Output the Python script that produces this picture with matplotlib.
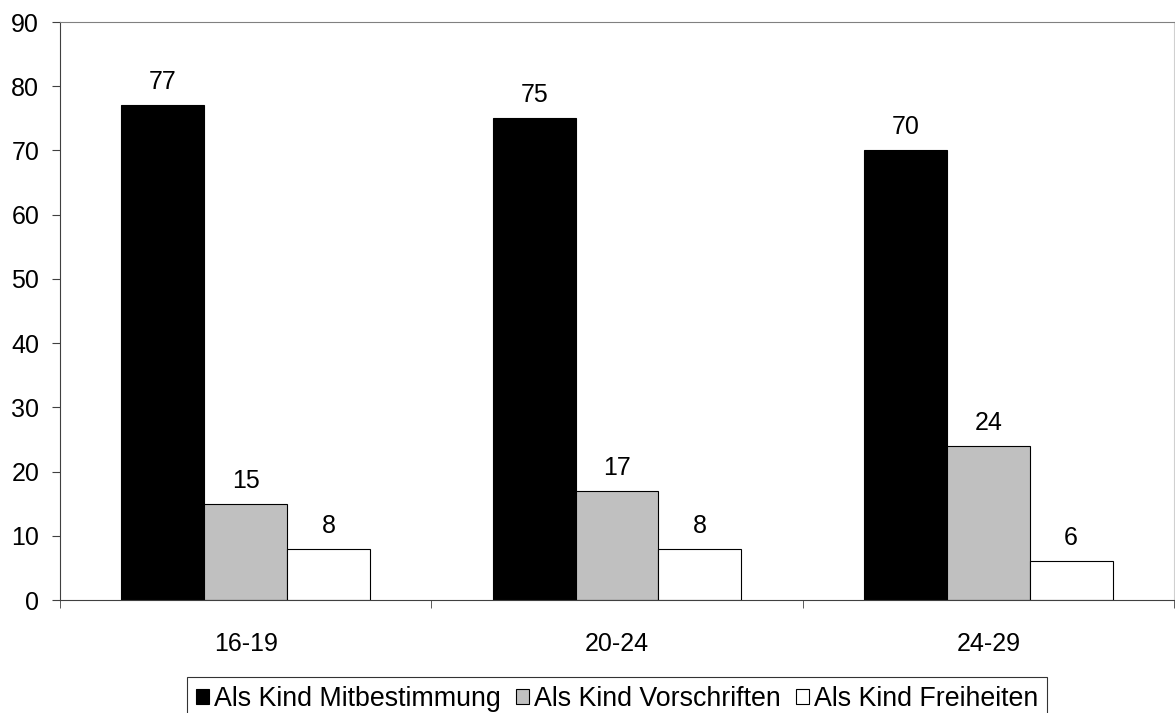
import matplotlib
matplotlib.use("Agg")
import matplotlib.pyplot as plt
import numpy as np

plt.rcParams['font.family'] = ['Liberation Sans', 'DejaVu Sans']

categories = ["16-19", "20-24", "24-29"]
series_names = ["Als Kind Mitbestimmung", "Als Kind Vorschriften", "Als Kind Freiheiten"]
mitbestimmung = [77, 75, 70]
vorschriften = [15, 17, 24]
freiheiten = [8, 8, 6]
colors = ["#000000", "#c0c0c0", "#ffffff"]
y_ticks = [0, 10, 20, 30, 40, 50, 60, 70, 80, 90]

FS = 18

fig = plt.figure(figsize=(11.75, 7.13), dpi=100)
ax = fig.add_axes([60/1175, 1-600/713, (1174-60)/1175, (600-22)/713])

x = np.arange(len(categories))
w = 0.223
for i, (vals, c, name) in enumerate(zip([mitbestimmung, vorschriften, freiheiten], colors, series_names)):
    pos = x + (i - 1) * w
    ax.bar(pos, vals, width=w, color=c, edgecolor="black", linewidth=0.8, label=name)
    for p, v in zip(pos, vals):
        ax.annotate(str(v), (p, v), xytext=(0, 8), textcoords="offset points",
                    ha="center", va="bottom", fontsize=FS)

ax.set_xlim(-0.5, len(categories) - 0.5)
ax.set_ylim(0, 90)
ax.set_yticks(y_ticks)
ax.set_yticklabels([str(t) for t in y_ticks], fontsize=FS)
ax.set_xticks(x)
ax.set_xticklabels(categories, fontsize=FS)
ax.tick_params(axis="x", which="major", length=0, pad=23)
ax.set_xticks(np.arange(len(categories) + 1) - 0.5, minor=True)
ax.tick_params(axis="x", which="minor", length=6, direction="out", color="#404040")
ax.tick_params(axis="y", length=6, direction="out", color="#404040", pad=9)

ax.spines["left"].set_color("#404040")
ax.spines["bottom"].set_color("#404040")
ax.spines["top"].set_color("#808080")
ax.spines["right"].set_color("#d0d0d0")

leg = fig.legend(loc="upper left", bbox_to_anchor=(187/1175, 1-677/713),
                 bbox_transform=fig.transFigure, ncol=3, frameon=True, fancybox=False,
                 edgecolor="black", fontsize=19.3, handlelength=0.49, handleheight=0.49,
                 handletextpad=0.2, columnspacing=0.55, borderpad=0.33, borderaxespad=0)
leg.get_frame().set_linewidth(0.8)

fig.savefig("out.png", dpi=100)
